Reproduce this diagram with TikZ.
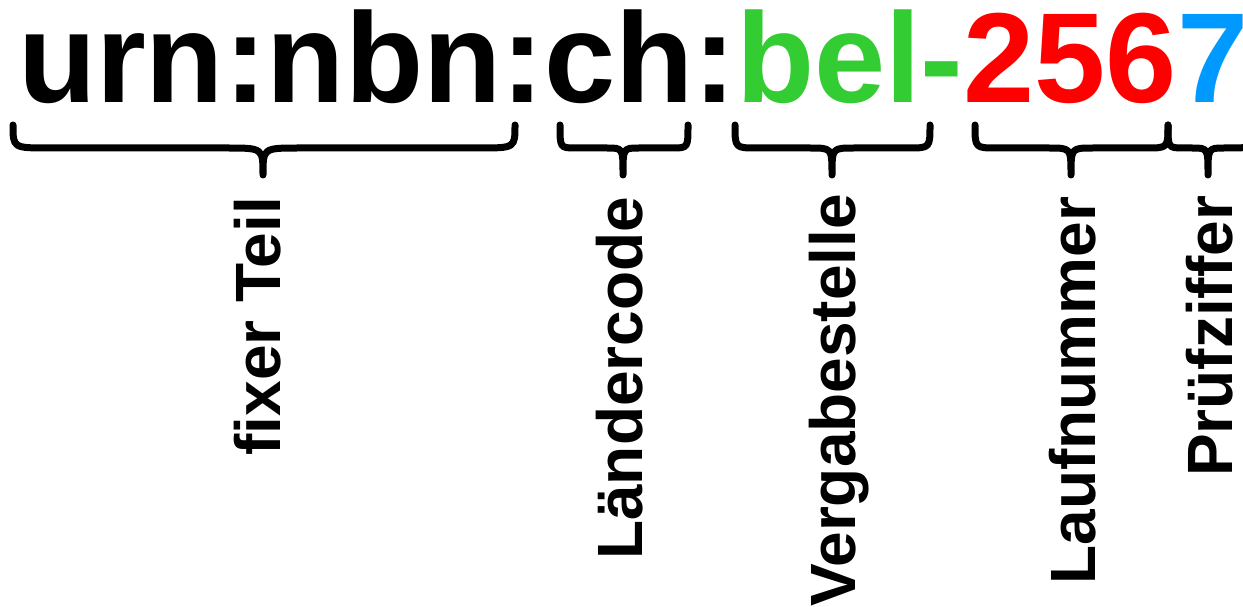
\documentclass[tikz,border=0pt]{standalone}
\usepackage{fontspec}
\setmainfont{Liberation Sans}
\usepackage{xcolor}
\usetikzlibrary{calc,positioning}

\definecolor{belgreen}{HTML}{33CC33}
\definecolor{laufred}{HTML}{FF0000}
\definecolor{pruefblue}{HTML}{0099FF}

% brace: left end, tip, right end, curve size
\newcommand{\urnbrace}[4]{%
	\draw [brace line] (#1,125) .. controls (#1,148) .. (#1+#4,148) -- (#2-#4,148)
	.. controls (#2,148) .. (#2,175) .. controls (#2,148) .. (#2+#4,148) -- (#3-#4,148)
	.. controls (#3,148) .. (#3,125);}

\begin{document}
\begin{tikzpicture} [x=1pt,y=-1pt,
	every node/.style={inner sep=0pt,outer sep=0pt},
	urn/.style={anchor=base west,font=\fontsize{128}{128}\selectfont\bfseries},
	lbl/.style={rotate=90,anchor=base east,font=\fontsize{64}{64}\selectfont\bfseries},
	brace line/.style={line width=7pt,line cap=round,line join=round}]
	
	\useasboundingbox (0,0) rectangle (1243,607);
	
	
	\node (U) [urn] at (18,103) {urn:nbn:ch:};
	
	\node (B) [urn,text=belgreen] at (U.base east) {bel-};
	
	\node (N) [urn,text=laufred] at (B.base east) {256};
	
	\node (P) [urn,text=pruefblue] at (N.base east) {7};
	
	
	\urnbrace{13}{263}{515}{36}
	
	\urnbrace{560}{623}{688}{16}
	
	\urnbrace{735}{832}{930}{22}
	
	\urnbrace{975}{1071}{1168}{22}
	
	\urnbrace{1168}{1208}{1250}{16}
	
	
	\node (fixer) [lbl] at (280,197) {fixer Teil};
	
	\node (land) [lbl] at (642,197) {Ländercode};
	
	\node (vergabe) [lbl] at (855,194) {Vergabestelle};
	
	\node (laufnr) [lbl] at (1095,197) {Laufnummer};
	
	\node (pruefz) [lbl] at (1232,196) {Prüfziffer};
	
\end{tikzpicture}
\end{document}
